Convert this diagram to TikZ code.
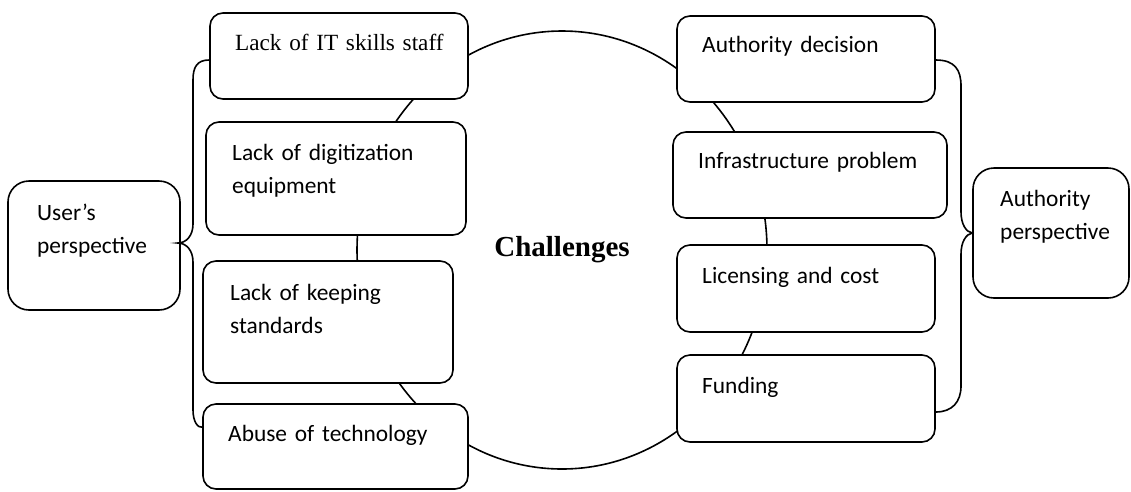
\documentclass[tikz,border=0pt]{standalone}
\usepackage{fontspec}
\setmainfont{Carlito}
\newfontfamily\serifr{Liberation Serif}
\usetikzlibrary{shapes.geometric,calc}
\begin{document}
\begin{tikzpicture}[x=1pt,y=-1pt,
  ln/.style={line width=1.6pt},
  box/.style={draw,ln,rounded corners=13pt,fill=white,inner sep=0pt},
  bigbox/.style={box,rounded corners=21pt},
  lbl/.style={anchor=base west,inner sep=0pt,font=\fontsize{23.4}{33}\selectfont,text width=230pt,align=left}]
\useasboundingbox (0,0) rectangle (1131,491);
% central ellipse
\node[draw,ln,ellipse,inner sep=0pt,minimum width=410pt,minimum height=438pt,
  font=\serifr\bfseries\fontsize{29}{34}\selectfont] (ch) at (562,250) {Challenges};
% boxes
\node[bigbox,minimum width=172pt,minimum height=129pt] (usr) at (94,245.5) {};
\node[box,minimum width=258pt,minimum height=86pt] (it) at (339,56) {};
\node[box,minimum width=260pt,minimum height=113pt] (dig) at (336,178.5) {};
\node[box,minimum width=250pt,minimum height=122pt] (keep) at (328,322) {};
\node[box,minimum width=265pt,minimum height=85pt] (abuse) at (335.5,446.5) {};
\node[box,minimum width=258pt,minimum height=86pt] (auth) at (806,59) {};
\node[box,minimum width=274pt,minimum height=86pt] (infra) at (810,175) {};
\node[box,minimum width=258pt,minimum height=87pt] (lic) at (806,288.5) {};
\node[box,minimum width=258pt,minimum height=87pt] (fund) at (806,398.5) {};
\node[bigbox,minimum width=156pt,minimum height=130pt] (autp) at (1051,233) {};
% texts
\node[lbl] (tusr) at (37,220) {User’s\\perspective};
\node[lbl,font=\serifr\fontsize{23.2}{33}\selectfont] (tit) at (235,50) {Lack of IT skills staff};
\node[lbl] (tdig) at (232,160) {Lack of digitization\\equipment};
\node[lbl] (tkeep) at (230,300) {Lack of keeping\\standards};
\node[lbl] (tab) at (228,441) {Abuse of technology};
\node[lbl] (tauth) at (702,52) {Authority decision};
\node[lbl] (tinf) at (698,168) {Infrastructure problem};
\node[lbl] (tlic) at (702,283) {Licensing and cost};
\node[lbl] (tfund) at (702,393) {Funding};
\node[lbl,text width=120pt] (tap) at (1000,206) {Authority\\perspective};
% braces
\coordinate (ltip) at ($(usr.east)+(-3,-2.5)$);
\draw[ln] ($(it.west)+(0,4)$) .. controls (197,60) and (193,67) .. (193,80)
  -- (193,224) .. controls (193,236) and (186,243) .. (ltip)
  .. controls (186,243) and (193,250) .. (193,262)
  -- (193,410) .. controls (193,422) and (198,428) .. ($(abuse.north west)+(0,24)$);
\draw[ln] ($(auth.east)+(0,1)$) .. controls (955,60) and (961,70) .. (961,86)
  -- (961,212) .. controls (961,224) and (966,232) .. (autp.west)
  .. controls (966,234) and (961,242) .. (961,254)
  -- (961,386) .. controls (961,402) and (952,412) .. ($(fund.east)+(0,13.5)$);
\end{tikzpicture}
\end{document}
